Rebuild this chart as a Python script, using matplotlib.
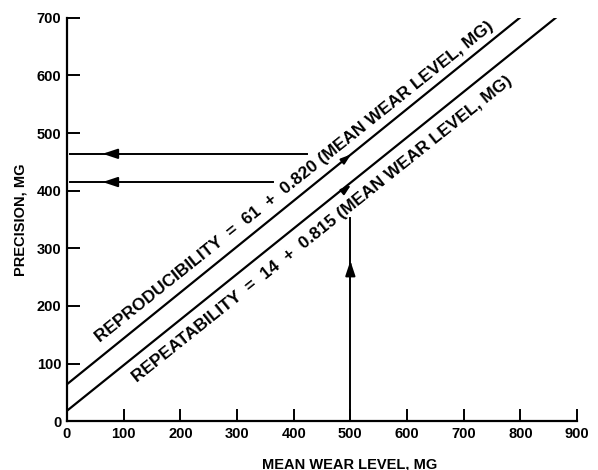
import numpy as np
import matplotlib.pyplot as plt

plt.rcParams['font.family'] = ['Liberation Sans', 'DejaVu Sans']
plt.rcParams['font.weight'] = 'bold'

# lines (end points)
repro_x = [0, 805]
repro_y = [64, 705]
repeat_x = [0, 866]
repeat_y = [18, 703]

# arrows: (start, tip of head, end of line)
horiz_levels = [464, 415]
horiz_ends = [424, 364]
horiz_tip = 58
vert_x = 500
vert_top = 353
vert_tip = 283
diag_tips = [(505, 466), (505, 413)]

xticks = [0, 100, 200, 300, 400, 500, 600, 700, 800, 900]
yticks = [0, 100, 200, 300, 400, 500, 600, 700]

fig = plt.figure(figsize=(5.98, 4.70), dpi=100)
ax = fig.add_axes([0.112, 0.104, 0.853, 0.858])

ax.plot(repro_x, repro_y, color='black', lw=1.6)
ax.plot(repeat_x, repeat_y, color='black', lw=1.6)

head = dict(arrowstyle='-|>,head_length=0.9,head_width=0.3', color='black', lw=1.4)
small = dict(arrowstyle='-|>,head_length=0.6,head_width=0.2', color='black', lw=1.4)

for lvl, end in zip(horiz_levels, horiz_ends):
    ax.plot([5, end], [lvl, lvl], color='black', lw=1.4)
    ax.annotate('', xy=(horiz_tip, lvl), xytext=(horiz_tip + 30, lvl), arrowprops=head)

ax.plot([vert_x, vert_x], [0, vert_top], color='black', lw=1.4)
ax.annotate('', xy=(vert_x, vert_tip), xytext=(vert_x, vert_tip - 20), arrowprops=head)

for (x0, y0), (xs, ys) in zip(diag_tips, [(repro_x, repro_y), (repeat_x, repeat_y)]):
    slope = (ys[1] - ys[0]) / (xs[1] - xs[0])
    ax.annotate('', xy=(x0, y0), xytext=(x0 - 20, y0 - 20 * slope), arrowprops=small)

ax.text(59, 136, 'REPRODUCIBILITY  =  61  +  0.820 (MEAN WEAR LEVEL, MG)',
        rotation=38.6, rotation_mode='anchor', fontsize=12.5, fontweight='bold')
ax.text(124, 67, 'REPEATABILITY  =  14  +  0.815 (MEAN WEAR LEVEL, MG)',
        rotation=38.6, rotation_mode='anchor', fontsize=12.5, fontweight='bold')

ax.set_xlim(0, 900)
ax.set_ylim(0, 700)
ax.set_xticks(xticks)
ax.set_yticks(yticks)
ax.tick_params(direction='in', length=9, width=1.4, labelsize=10.5, pad=4)
for lab in ax.get_xticklabels() + ax.get_yticklabels():
    lab.set_fontweight('bold')
for s in ['top', 'right']:
    ax.spines[s].set_visible(False)
for s in ['left', 'bottom']:
    ax.spines[s].set_linewidth(1.6)

ax.set_xlabel('MEAN WEAR LEVEL, MG', fontsize=10.5, fontweight='bold')
ax.xaxis.set_label_coords(0.555, -0.09)
ax.set_ylabel('PRECISION, MG', fontsize=10.5, fontweight='bold')
ax.yaxis.set_label_coords(-0.078, 0.5)

fig.savefig('out.png', dpi=100)
